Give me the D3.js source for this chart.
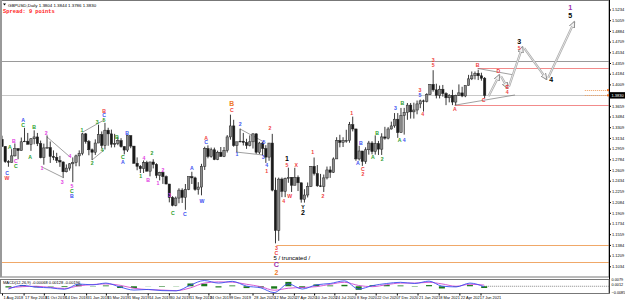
<!DOCTYPE html>
<html><head><meta charset="utf-8">
<script src="https://cdn.jsdelivr.net/npm/d3@7"></script>
<style>html,body{margin:0;padding:0;background:#fff;overflow:hidden}svg{display:block;font-family:"Liberation Sans",Arial,sans-serif}</style>
</head><body><svg id="c" width="625" height="301"></svg>
<script>
// ---------- DATA ----------
const firstWeek = "2018-07-30", lastWeek = "2021-06-14";
const open  = [1.3110,1.2995,1.2745,1.2735,1.2840,1.2960,1.2925,1.3070,1.3080,1.3030,1.3120,1.3150,1.3040,1.2810,1.2970,1.2975,1.2830,1.2815,1.2765,1.2740,1.2580,1.2640,1.2710,1.2730,1.2840,1.2880,1.3200,1.3075,1.2940,1.2900,1.3050,1.3190,1.3010,1.3260,1.3200,1.3030,1.3040,1.3090,1.2990,1.2935,1.3170,1.3000,1.2720,1.2670,1.2630,1.2730,1.2590,1.2740,1.2700,1.2520,1.2570,1.2500,1.2380,1.2160,1.2030,1.2150,1.2280,1.2160,1.2290,1.2500,1.2480,1.2290,1.2330,1.2670,1.2960,1.2830,1.2940,1.2780,1.2900,1.2830,1.2930,1.3150,1.3330,1.3010,1.3070,1.3080,1.3060,1.3010,1.3070,1.3200,1.2900,1.3050,1.2960,1.2820,1.3050,1.2280,1.1620,1.2460,1.2260,1.2470,1.2490,1.2360,1.2490,1.2400,1.2130,1.2200,1.2340,1.2670,1.2550,1.2350,1.2340,1.2480,1.2610,1.2570,1.2790,1.3090,1.3060,1.3090,1.3090,1.3350,1.3280,1.2790,1.2920,1.2750,1.2940,1.3050,1.2910,1.3040,1.2950,1.3150,1.3130,1.3280,1.3330,1.3440,1.3220,1.3500,1.3550,1.3670,1.3560,1.3590,1.3690,1.3740,1.3730,1.3840,1.4010,1.3920,1.3830,1.3930,1.3860,1.3790,1.3830,1.3720,1.3830,1.3870,1.3820,1.3990,1.4100,1.4150,1.4190,1.4150,1.4110];
const high  = [1.3170,1.3000,1.2770,1.2950,1.3043,1.2960,1.3140,1.3298,1.3215,1.3130,1.3258,1.3215,1.3090,1.3040,1.3175,1.3075,1.2930,1.2890,1.2840,1.2750,1.2700,1.2720,1.2815,1.2860,1.2930,1.3218,1.3215,1.3100,1.2960,1.3110,1.3350,1.3240,1.3380,1.3300,1.3270,1.3200,1.3150,1.3130,1.3000,1.3176,1.3175,1.3000,1.2815,1.2690,1.2765,1.2760,1.2745,1.2785,1.2720,1.2580,1.2580,1.2520,1.2380,1.2180,1.2175,1.2310,1.2310,1.2380,1.2500,1.2580,1.2500,1.2410,1.2710,1.2990,1.3012,1.2975,1.2975,1.2925,1.2985,1.2985,1.3180,1.3514,1.3430,1.3070,1.3285,1.3215,1.3120,1.3175,1.3210,1.3210,1.3070,1.3070,1.3015,1.3050,1.3200,1.2485,1.2485,1.2485,1.2485,1.2647,1.2490,1.2645,1.2520,1.2400,1.2295,1.2405,1.2670,1.2813,1.2690,1.2545,1.2535,1.2665,1.2670,1.2815,1.3145,1.3185,1.3145,1.3267,1.3395,1.3482,1.3285,1.3005,1.2920,1.2980,1.3085,1.3080,1.3175,1.3085,1.3210,1.3315,1.3310,1.3400,1.3540,1.3540,1.3624,1.3625,1.3705,1.3705,1.3710,1.3745,1.3760,1.3760,1.3865,1.4010,1.4241,1.4020,1.3990,1.4000,1.3880,1.3850,1.3920,1.3840,1.4009,1.3970,1.3990,1.4165,1.4220,1.4220,1.4249,1.4200,1.4130];
const low   = [1.2990,1.2725,1.2662,1.2730,1.2830,1.2785,1.2925,1.3070,1.3030,1.2922,1.3030,1.3000,1.2800,1.2696,1.2965,1.2725,1.2770,1.2723,1.2660,1.2477,1.2570,1.2600,1.2410,1.2670,1.2670,1.2850,1.3040,1.2850,1.2772,1.2855,1.3050,1.2960,1.2945,1.3005,1.2977,1.2980,1.3015,1.2975,1.2865,1.2905,1.2965,1.2710,1.2605,1.2560,1.2560,1.2585,1.2505,1.2635,1.2475,1.2440,1.2382,1.2375,1.2080,1.2015,1.2015,1.2065,1.2070,1.1958,1.2280,1.2380,1.2270,1.2206,1.2195,1.2610,1.2800,1.2810,1.2770,1.2770,1.2825,1.2820,1.2895,1.3105,1.2990,1.2905,1.3060,1.3010,1.2955,1.2995,1.2960,1.2873,1.2870,1.2850,1.2725,1.2760,1.2260,1.1409,1.1450,1.2165,1.2165,1.2400,1.2250,1.2360,1.2265,1.2075,1.2076,1.2160,1.2330,1.2520,1.2335,1.2330,1.2250,1.2455,1.2480,1.2560,1.2790,1.2980,1.2985,1.3055,1.3055,1.3240,1.2760,1.2765,1.2676,1.2710,1.2860,1.2865,1.2860,1.2855,1.2855,1.3105,1.3110,1.3270,1.3300,1.3135,1.3220,1.3188,1.3430,1.3450,1.3450,1.3520,1.3620,1.3565,1.3715,1.3840,1.3890,1.3780,1.3780,1.3810,1.3670,1.3715,1.3670,1.3669,1.3820,1.3800,1.3800,1.3990,1.4080,1.4090,1.4080,1.4070,1.3787];
const close = [1.2995,1.2745,1.2735,1.2840,1.2960,1.2925,1.3070,1.3080,1.3030,1.3120,1.3150,1.3040,1.2810,1.2970,1.2975,1.2830,1.2815,1.2765,1.2740,1.2580,1.2640,1.2710,1.2730,1.2840,1.2880,1.3200,1.3075,1.2940,1.2900,1.3050,1.3190,1.3010,1.3260,1.3200,1.3030,1.3040,1.3090,1.2990,1.2935,1.3170,1.3000,1.2720,1.2670,1.2630,1.2730,1.2590,1.2740,1.2700,1.2520,1.2570,1.2500,1.2380,1.2160,1.2030,1.2150,1.2280,1.2160,1.2290,1.2500,1.2480,1.2290,1.2330,1.2670,1.2960,1.2830,1.2940,1.2780,1.2900,1.2830,1.2930,1.3150,1.3330,1.3010,1.3070,1.3080,1.3060,1.3010,1.3070,1.3200,1.2900,1.3050,1.2960,1.2820,1.3050,1.2280,1.1620,1.2460,1.2260,1.2470,1.2490,1.2360,1.2490,1.2400,1.2130,1.2200,1.2340,1.2670,1.2550,1.2350,1.2340,1.2480,1.2610,1.2570,1.2790,1.3090,1.3060,1.3090,1.3090,1.3350,1.3280,1.2790,1.2920,1.2750,1.2940,1.3050,1.2910,1.3040,1.2950,1.3150,1.3130,1.3280,1.3330,1.3440,1.3220,1.3500,1.3550,1.3670,1.3560,1.3590,1.3690,1.3740,1.3730,1.3840,1.4010,1.3920,1.3830,1.3930,1.3860,1.3790,1.3830,1.3720,1.3830,1.3870,1.3820,1.3990,1.4100,1.4150,1.4190,1.4150,1.4110,1.3830];

const priceTicks = [1.5234,1.5059,1.4884,1.4709,1.4534,1.4359,1.4184,1.4009,1.3834,1.3659,1.3484,1.3309,1.3134,1.2959,1.2784,1.2609,1.2434,1.2259,1.2084,1.1909,1.1734,1.1559,1.1384,1.1209,1.1034];
const dateTickDates  = ["2018-08-01","2018-09-17","2018-10-31","2018-12-14","2019-01-31","2019-03-15","2019-05-01","2019-06-14","2019-07-30","2019-09-11","2019-10-24","2019-12-09","2020-01-28","2020-03-12","2020-04-27","2020-06-10","2020-07-24","2020-09-08","2020-10-22","2020-12-07","2021-01-21","2021-03-08","2021-04-22","2021-06-07"];
const dateTickLabels = ["1 Aug 2018","17 Sep 2018","31 Oct 2018","14 Dec 2018","31 Jan 2019","15 Mar 2019","1 May 2019","14 Jun 2019","30 Jul 2019","11 Sep 2019","24 Oct 2019","9 Dec 2019","28 Jan 2020","12 Mar 2020","27 Apr 2020","10 Jun 2020","24 Jul 2020","8 Sep 2020","22 Oct 2020","7 Dec 2020","21 Jan 2021","8 Mar 2021","22 Apr 2021","7 Jun 2021"];

const symbolText = "GBPUSD,Daily  1.3804 1.3844 1.3786 1.3830";
const spreadText = "Spread: 9 points";
const lastPrice = 1.3830;

// horizontal levels: [startDate or null(full width), price, kind]
const levels = [[null,1.4392,"gray"],[null,1.3830,"bid"],["2021-06-01",1.4270,"red"],["2021-04-12",1.3669,"red"],["2020-03-20",1.1375,"orange"],[null,1.1100,"orange"]];
const dottedLevelStart = "2022-01-20";
const dottedLevels = [1.3915,1.3830];

// trend/pattern lines: [date1, price1, date2, price2]
const patternLines = [
 ["2018-11-07",1.3149,"2018-12-27",1.2822],["2018-10-27",1.2658,"2018-12-10",1.2494],
 ["2019-01-24",1.3230,"2019-03-11",1.3427],["2019-02-13",1.2773,"2019-03-11",1.2936],
 ["2020-01-01",1.3280,"2020-02-22",1.3067],["2019-12-23",1.2903,"2020-02-20",1.2854],
 ["2021-06-01",1.4270,"2021-08-19",1.4163],["2021-04-12",1.3669,"2021-08-21",1.3836]];

// projected path
const projDates  = ["2021-06-22","2021-07-19","2021-08-06","2021-09-07","2021-10-30","2021-12-29"];
const projPrices = [1.3780,1.4179,1.3934,1.4637,1.4081,1.5046];

// wave labels: [date, price, text, degree]
const waveLabels = [
 ["2018-08-12",1.2470,"W","minor"],["2018-08-12",1.2560,"C","minute"],["2018-08-18",1.2985,"A","minuette"],
 ["2018-08-27",1.3083,"B","sub"],["2018-08-31",1.2756,"C","sub"],["2018-08-31",1.2674,"C","minuette"],
 ["2018-09-16",1.3420,"A","minute"],["2018-09-16",1.3340,"C","minuette"],["2018-10-10",1.3312,"B","minuette"],
 ["2018-10-01",1.2822,"A","minuette"],["2018-11-05",1.3214,"2","sub"],["2018-10-27",1.2641,"1","sub"],
 ["2018-12-10",1.2413,"3","sub"],["2018-12-27",1.2838,"4","sub"],["2018-12-31",1.2350,"5","sub"],
 ["2018-12-31",1.2270,"C","minuette"],["2018-12-31",1.2190,"B","minute"],
 ["2019-01-22",1.3263,"1","minuette"],["2019-02-13",1.2723,"2","minuette"],["2019-02-24",1.3394,"3","minuette"],
 ["2019-03-11",1.3580,"B","minor"],["2019-03-11",1.3505,"C","minute"],["2019-03-11",1.3430,"5","minuette"],
 ["2019-03-07",1.2936,"4","minuette"],["2019-04-08",1.3149,"B","minuette"],["2019-04-21",1.2815,"C","minuette"],
 ["2019-04-21",1.2735,"A","minute"],["2019-04-30",1.3214,"B","minute"],["2019-05-30",1.2511,"1","minuette"],
 ["2019-06-06",1.2805,"4","sub"],["2019-06-15",1.2445,"B","sub"],["2019-06-23",1.2887,"2","minuette"],
 ["2019-07-06",1.2396,"1","sub"],["2019-07-17",1.2609,"2","sub"],["2019-08-01",1.2200,"3","sub"],
 ["2019-08-08",1.1906,"C","minuette"],["2019-09-03",1.1890,"C","minute"],["2019-09-18",1.2640,"A","minute"],
 ["2019-10-10",1.2110,"W","minute"],["2019-10-19",1.3140,"A","minor"],["2019-10-19",1.3060,"C","minute"],
 ["2019-12-14",1.3690,"B","cycle"],["2019-12-14",1.3585,"C","minor"],["2020-01-01",1.3361,"2","minute"],
 ["2019-12-25",1.2870,"1","minute"],["2020-02-22",1.3067,"5","minute"],["2020-02-20",1.2822,"3","minute"],
 ["2020-02-28",1.2695,"4","minute"],["2020-02-28",1.2595,"1","minor"],["2020-03-06",1.3290,"2","minor"],
 ["2020-03-20",1.1334,"3","minor"],["2020-03-20",1.1252,"C","minor"],
 ["2020-03-20",1.1060,"C","primary"],["2020-03-20",1.0930,"2","cycle"],
 ["2020-04-05",1.2100,"4","minor"],["2020-04-12",1.2800,"1","inter"],["2020-04-12",1.2691,"5","minor"],
 ["2020-05-02",1.2691,"X","minor"],["2020-04-18",1.2184,"W","minor"],["2020-05-17",1.2010,"Y","interS"],
 ["2020-05-17",1.1915,"2","inter"],["2020-06-07",1.2900,"1","minor"],["2020-06-29",1.2180,"2","minor"],
 ["2020-08-31",1.3545,"1","minor"],["2020-09-13",1.2723,"A","minute"],["2020-09-20",1.3051,"B","minute"],
 ["2020-09-24",1.2630,"C","minor"],["2020-09-24",1.2540,"2","minor"],["2020-10-16",1.2822,"A","minuette"],
 ["2020-10-25",1.3214,"B","minuette"],["2020-11-05",1.2790,"2","minuette"],["2020-12-04",1.3620,"3","minute"],
 ["2020-12-19",1.3700,"B","minuette"],["2020-12-13",1.3100,"A","minuette"],["2020-12-23",1.3100,"4","minute"],
 ["2021-01-26",1.3910,"3","minor"],["2021-01-26",1.3830,"5","minute"],["2021-02-01",1.3523,"4","minor"],
 ["2021-02-24",1.4410,"3","minor"],["2021-02-24",1.4325,"5","minor"],["2021-04-12",1.3610,"A","minor"],
 ["2021-06-01",1.4330,"B","minor"],["2021-06-14",1.3754,"C","minor"],
 ["2021-07-16",1.4230,"D","minor"],["2021-08-04",1.3970,"E","minor"],["2021-08-04",1.3880,"4","minor"],
 ["2021-08-30",1.4712,"3","inter"],["2021-08-30",1.4604,"5","minor"],["2021-11-08",1.4081,"4","inter"],
 ["2021-12-19",1.5265,"1","primary"],["2021-12-19",1.5140,"5","inter"]];
const truncNote = ["2020-03-20",1.1170,"5 / truncated /"];

// oscillator (MACD 12,26,9) sampled monthly
const oscStart = "2018-08-01";
const macdVals   = [-0.0035,0.0010,-0.0012,-0.0020,-0.0038,0.0028,0.0018,0.0040,-0.0010,-0.0048,-0.0040,-0.0055,-0.0058,0.0015,0.0072,0.0040,0.0062,0.0002,-0.0020,-0.0080,0.0030,-0.0035,0.0018,0.0035,0.0068,-0.0035,0.0008,0.0035,0.0050,0.0035,0.0065,0.0002,-0.0008,0.0040,-0.0007];
const signalVals = [-0.0020,-0.0005,0.0000,-0.0015,-0.0028,0.0005,0.0022,0.0030,0.0012,-0.0025,-0.0042,-0.0048,-0.0055,-0.0020,0.0040,0.0055,0.0052,0.0025,-0.0005,-0.0050,-0.0025,-0.0015,-0.0005,0.0025,0.0050,0.0010,-0.0005,0.0020,0.0040,0.0040,0.0050,0.0030,0.0000,0.0025,0.0015];
const oscTitle = "MACD(12,26,9) -0.00068 0.00128 -0.00196";
const oscTicks = [0.0079,0.0012,-0.0085];

// ---------- DRAW ----------
const svg = d3.select("#c");
const plotR = 609, mainB = 277, oscT = 279.5, oscB = 293.5;
const pd = d3.timeParse("%Y-%m-%d");
const x = d3.scaleTime().domain([pd("2018-08-01"), pd("2021-06-07")]).range([2, 480.5]);
const y = d3.scaleLinear().domain([1.1034, 1.5234]).range([266.3, 9.5]);
const weeks = d3.timeMonday.range(pd(firstWeek), d3.timeDay.offset(pd(lastWeek), 1));
const bars = weeks.map((d, i) => ({d: d3.timeDay.offset(d, 2), o: open[i], h: high[i], l: low[i], c: close[i]}));

const defs = svg.append("defs");
defs.append("clipPath").attr("id", "mc").append("rect").attr("x", 0).attr("y", 0).attr("width", plotR).attr("height", mainB);
defs.append("marker").attr("id", "ah").attr("viewBox", "0 0 10 10").attr("refX", 8).attr("refY", 5)
  .attr("markerWidth", 3.2).attr("markerHeight", 3.2).attr("orient", "auto")
  .append("path").attr("d", "M0,1L9,5L0,9z").attr("fill", "#eee").attr("stroke", "#8a8a8a").attr("stroke-width", 1.2);

const main = svg.append("g").attr("clip-path", "url(#mc)");

// levels
const levelColor = {gray: "#9a9a9a", bid: "#c8c8c8", red: "#f28b8b", orange: "#f0a868"};
main.selectAll("line.lvl").data(levels).join("line")
  .attr("x1", d => d[0] ? x(pd(d[0])) : 0).attr("x2", plotR)
  .attr("y1", d => Math.round(y(d[1])) + 0.5).attr("y2", d => Math.round(y(d[1])) + 0.5)
  .attr("stroke", d => levelColor[d[2]]).attr("stroke-width", 1);
main.selectAll("line.dl").data(dottedLevels).join("line")
  .attr("x1", x(pd(dottedLevelStart))).attr("x2", plotR)
  .attr("y1", d => Math.round(y(d)) + 0.5).attr("y2", d => Math.round(y(d)) + 0.5)
  .attr("stroke", "#f0a060").attr("stroke-dasharray", "1,1");

// pattern lines
main.selectAll("line.pl").data(patternLines).join("line")
  .attr("x1", d => x(pd(d[0]))).attr("y1", d => y(d[1])).attr("x2", d => x(pd(d[2]))).attr("y2", d => y(d[3]))
  .attr("stroke", "#777").attr("stroke-width", 0.7);

// candles
const cg = main.append("g");
cg.selectAll("line").data(bars).join("line")
  .attr("x1", d => x(d.d)).attr("x2", d => x(d.d)).attr("y1", d => y(d.h)).attr("y2", d => y(d.l))
  .attr("stroke", "#222").attr("stroke-width", 0.9);
cg.selectAll("rect").data(bars).join("rect")
  .attr("x", d => x(d.d) - 1.2).attr("width", 2.4)
  .attr("y", d => y(Math.max(d.o, d.c))).attr("height", d => Math.max(0.6, Math.abs(y(d.o) - y(d.c))))
  .attr("fill", d => d.c >= d.o ? "#8c8c8c" : "#1a1a1a").attr("stroke", "#222").attr("stroke-width", 0.5);

// projection arrows
const proj = projDates.map((d, i) => [x(pd(d)), y(projPrices[i])]);
const pg = main.append("g");
d3.pairs(proj).forEach(([a, b]) => {
  const dx = b[0] - a[0], dy = b[1] - a[1], L = Math.hypot(dx, dy);
  const s = [a[0] + dx * 2.5 / L, a[1] + dy * 2.5 / L], e = [b[0] - dx * 1 / L, b[1] - dy * 1 / L];
  pg.append("line").attr("x1", s[0]).attr("y1", s[1]).attr("x2", e[0]).attr("y2", e[1])
    .attr("stroke", "#a8a8a8").attr("stroke-width", 2.2).attr("marker-end", "url(#ah)");
  pg.append("line").attr("x1", s[0]).attr("y1", s[1]).attr("x2", e[0] - dx * 2 / L).attr("y2", e[1] - dy * 2 / L)
    .attr("stroke", "#f2f2f2").attr("stroke-width", 0.8);
});

// wave labels
const degStyle = {
  minor: {c: "#f03c3c", s: 5.2}, minute: {c: "#3a4ff0", s: 5.2},
  minuette: {c: "#2a9d2a", s: 5.2}, sub: {c: "#e23be2", s: 5.2},
  cycle: {c: "#ee7a2a", s: 6.8}, primary: {c: "#9b2fb0", s: 7.2},
  inter: {c: "#000", s: 7}, interS: {c: "#000", s: 5.2}};
main.selectAll("text.wl").data(waveLabels).join("text")
  .attr("x", d => x(pd(d[0]))).attr("y", d => y(d[1]))
  .attr("text-anchor", "middle").attr("dominant-baseline", "central")
  .attr("fill", d => degStyle[d[3]].c).attr("font-size", d => degStyle[d[3]].s).attr("font-weight", "bold")
  .text(d => d[2]);
main.append("text").attr("x", x(pd(truncNote[0])) - 3).attr("y", y(truncNote[1]))
  .attr("dominant-baseline", "central").attr("font-size", 6).attr("fill", "#000").text(truncNote[2]);

// header
svg.append("path").attr("d", "M3,3.5L6,3.5L4.5,5.5z").attr("fill", "#000");
svg.append("text").attr("x", 8).attr("y", 6.5).attr("font-size", 4.4).attr("fill", "#000").text(symbolText);
svg.append("text").attr("x", 3).attr("y", 13).attr("font-size", 5.4).attr("font-weight", "bold")
  .attr("font-family", "'Liberation Mono','DejaVu Sans Mono',monospace").attr("fill", "#ff1a1a").text(spreadText);

// frames
svg.append("rect").attr("x", 0.5).attr("y", 0.5).attr("width", plotR - 0.5).attr("height", mainB - 0.5)
  .attr("fill", "none").attr("stroke", "#777");
svg.append("line").attr("x1", 1).attr("x2", 1).attr("y1", 0).attr("y2", mainB).attr("stroke", "#999").attr("stroke-width", 2);

// price axis
const ya = svg.append("g").attr("transform", `translate(${plotR},0)`)
  .call(d3.axisRight(y).tickValues(priceTicks).tickFormat(d3.format(".4f")).tickSize(2).tickPadding(1));
ya.select(".domain").attr("stroke", "#000").attr("d", `M0.5,0V${oscB}`);
ya.selectAll("text").attr("font-size", 4).attr("fill", "#000").attr("font-family", "'Liberation Sans',Arial");
ya.selectAll("line").attr("stroke", "#000");
const pb = svg.append("g").attr("transform", `translate(${plotR},${y(lastPrice)})`);
pb.append("rect").attr("x", 0).attr("y", -3.2).attr("width", 16).attr("height", 6.4).attr("fill", "#000");
pb.append("text").attr("x", 2.5).attr("y", 0).attr("dominant-baseline", "central").attr("font-size", 4).attr("fill", "#fff").text(d3.format(".4f")(lastPrice));
svg.selectAll("rect.om").data(dottedLevels).join("rect").attr("x", plotR - 2).attr("y", d => y(d) - 1).attr("width", 2).attr("height", 2).attr("fill", "#f07020");

// oscillator panel
const oy = d3.scaleLinear().domain([-0.0085, 0.0079]).range([oscB - 0.5, oscT + 0.5]);
const months = d3.timeMonth.range(pd(oscStart), d3.timeMonth.offset(pd(oscStart), macdVals.length)).map(d => d3.timeDay.offset(d, 14));
defs.append("clipPath").attr("id", "oc").append("rect").attr("x", 0).attr("y", oscT).attr("width", plotR).attr("height", oscB - oscT);
const og = svg.append("g").attr("clip-path", "url(#oc)");
og.append("line").attr("x1", x(months[months.length - 1])).attr("x2", plotR).attr("y1", oy(0)).attr("y2", oy(0))
  .attr("stroke", "#555").attr("stroke-dasharray", "1,1").attr("stroke-width", 0.7);
og.selectAll("rect").data(months).join("rect")
  .attr("x", d => x(d) - 3).attr("width", 6)
  .attr("y", (d, i) => Math.min(oy(0), oy(macdVals[i] - signalVals[i])))
  .attr("height", (d, i) => Math.abs(oy(macdVals[i] - signalVals[i]) - oy(0)))
  .attr("fill", "#1a7a1a");
const ln = vals => d3.line().x((d, i) => x(months[i])).y(d => oy(d)).curve(d3.curveMonotoneX)(vals);
og.append("path").attr("d", ln(signalVals)).attr("fill", "none").attr("stroke", "#d04ad0").attr("stroke-width", 0.9);
og.append("path").attr("d", ln(macdVals)).attr("fill", "none").attr("stroke", "#3a4ff0").attr("stroke-width", 0.9);
svg.append("rect").attr("x", 0.5).attr("y", oscT).attr("width", plotR - 0.5).attr("height", oscB - oscT)
  .attr("fill", "none").attr("stroke", "#777");
svg.append("text").attr("x", 3).attr("y", oscT + 4.3).attr("font-size", 4).attr("fill", "#000").text(oscTitle);
svg.selectAll("text.ot").data(oscTicks).join("text").attr("x", plotR + 2.5).attr("y", d => oy(d))
  .attr("dominant-baseline", "central").attr("font-size", 3.8).attr("fill", "#000").text(d => d3.format(".4f")(d));

// date axis
const xa = svg.append("g").attr("transform", `translate(0,${oscB})`)
  .call(d3.axisBottom(x).tickValues(dateTickDates.map(pd)).tickFormat((d, i) => dateTickLabels[i]).tickSize(2).tickPadding(1));
xa.select(".domain").remove();
xa.selectAll("line").attr("stroke", "#000");
xa.selectAll("text").attr("text-anchor", "start").attr("dx", 1).attr("font-size", 3.9).attr("fill", "#000");
</script></body></html>
